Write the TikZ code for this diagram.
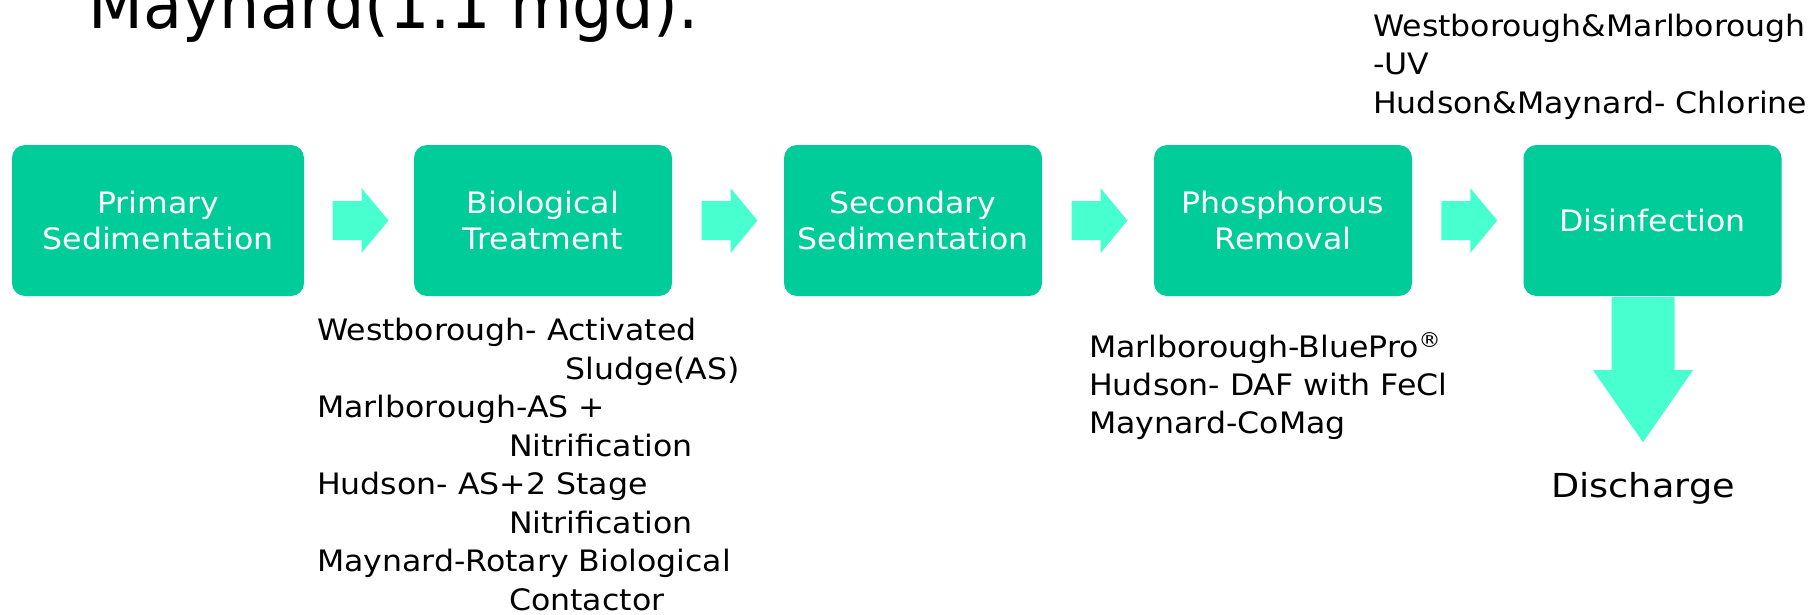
\documentclass[tikz,border=0pt]{standalone}
\usepackage{fontspec}
\usetikzlibrary{calc}
\newfontfamily\bodyfont[FakeStretch=1.07]{DejaVu Sans}
\newfontfamily\titlefont[FakeStretch=0.95]{DejaVu Sans}
\newfontfamily\dischfont[FakeStretch=1.11]{DejaVu Sans}
\definecolor{boxgreen}{HTML}{00CC99}
\definecolor{arrowaqua}{HTML}{48FFCF}
\tikzset{
  stagebox/.style={fill=boxgreen, draw=none, rounded corners=13pt, minimum height=151pt,
    minimum width=258pt, inner sep=0pt, align=center, text=white,
    font=\bodyfont\fontsize{29.5}{36}\selectfont},
  listtext/.style={anchor=base west, inner sep=0pt, align=left, text=black,
    font=\bodyfont\fontsize{29.5}{38.5}\selectfont},
  arrowfill/.style={fill=arrowaqua, draw=none},
}
\newcommand\flowarrow[2]{%
  \fill[arrowfill] ($(#1.east)!0.5!(#2.west)+(-26.5,0)$) ++(0,-19.5) -- ++(29,0) -- ++(0,-13)
    -- ++(27,32.5) -- ++(-27,32.5) -- ++(0,-13) -- ++(-29,0) -- cycle;}
\begin{document}
\begin{tikzpicture}[x=1pt,y=-1pt]
\useasboundingbox (0,0) rectangle (1820,614);
% title (cut off at the top)
\node[anchor=base west, inner sep=0pt, font=\titlefont\fontsize{67}{80}\selectfont] (title) at (88,28) {Maynard(1.1 mgd).};
% stage boxes
\node[stagebox, minimum width=292pt] (b1) at (158,220.5) {Primary\\Sedimentation};
\node[stagebox] (b2) at (543,220.5) {Biological\\Treatment};
\node[stagebox] (b3) at (913,220.5) {Secondary\\Sedimentation};
\node[stagebox] (b4) at (1283,220.5) {Phosphorous\\Removal};
\node[stagebox] (b5) at (1652.5,220.5) {Disinfection};
% block arrows between boxes
\flowarrow{b1}{b2}
\flowarrow{b2}{b3}
\flowarrow{b3}{b4}
\flowarrow{b4}{b5}
% discharge
\node[anchor=base, inner sep=0pt, font=\dischfont\fontsize{33}{40}\selectfont] (dis) at (1643,497) {Discharge};
\coordinate (dtop) at ($(b5.south)+(-9.5,1)$);
\fill[arrowfill] (dtop) ++(-31.5,0) -- ++(63,0) -- ++(0,73) -- ++(18.5,0) -- ++(-50,72)
  -- ++(-50,-72) -- ++(18.5,0) -- cycle;
% annotation lists (base anchor = baseline of the last line)
\node[listtext] (biolist) at (317,610) {Westborough- Activated\\
\hspace*{248pt}Sludge(AS)\\
Marlborough-AS +\\
\hspace*{192pt}Nitrification\\
Hudson- AS+2 Stage\\
\hspace*{192pt}Nitrification\\
Maynard-Rotary Biological\\
\hspace*{192pt}Contactor};
\node[listtext, font=\bodyfont\fontsize{29.5}{38}\selectfont] (phoslist) at (1089,433) {Marlborough-BluePro\textsuperscript{®}\\
Hudson- DAF with FeCl\\
Maynard-CoMag};
\node[listtext] (dislist) at (1373,113) {Westborough\&Marlborough\\
-UV\\
Hudson\&Maynard- Chlorine};
\end{tikzpicture}
\end{document}
